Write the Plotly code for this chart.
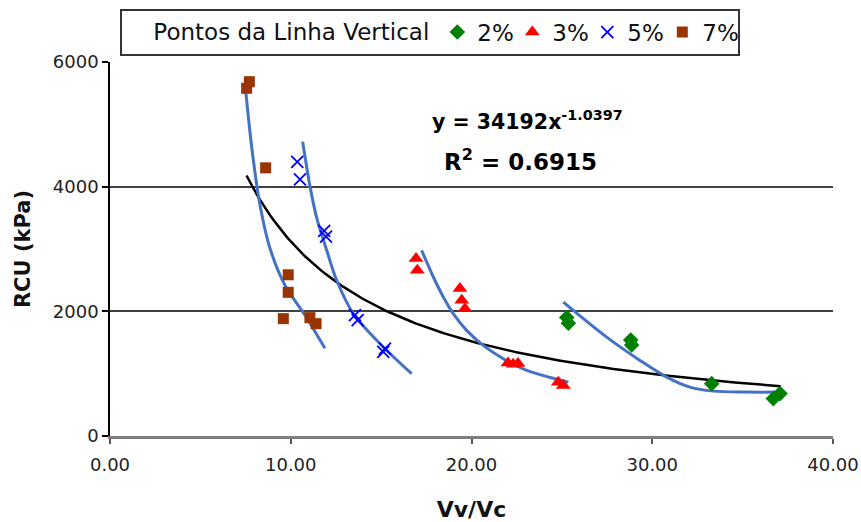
import numpy as np
import plotly.graph_objects as go

# Measured points per vertical-line spacing group
x_2 = [25.27, 25.36, 28.81, 28.86, 33.29, 36.70, 37.07]
y_2 = [1900, 1810, 1540, 1460, 840, 600, 680]

x_3 = [16.93, 17.00, 19.36, 19.46, 19.64, 22.02, 22.30, 22.57, 24.80, 25.08]
y_3 = [2846, 2659, 2365, 2177, 2043, 1170, 1150, 1165, 864, 811]

x_5 = [10.36, 10.51, 11.85, 11.95, 13.55, 13.70, 15.12, 15.21]
y_5 = [4398, 4116, 3290, 3200, 1940, 1860, 1350, 1401]

x_7 = [7.56, 7.71, 8.61, 9.59, 9.86, 9.86, 11.06, 11.40]
y_7 = [5578, 5684, 4302, 1883, 2586, 2305, 1899, 1802]

# Hand-fitted guide curves through each group
guide_7_x = [7.47, 7.86, 8.30, 8.85, 9.68, 10.79, 11.89]
guide_7_y = [5647, 4586, 3703, 3012, 2418, 1936, 1406]

guide_5_x = [10.66, 11.07, 11.47, 11.99, 12.54, 13.46, 14.94, 16.69]
guide_5_y = [4720, 3997, 3462, 2980, 2498, 1963, 1481, 999]

guide_3_x = [17.24, 17.89, 18.44, 18.99, 19.73, 20.65, 21.76, 23.06, 25.36]
guide_3_y = [2980, 2551, 2230, 1963, 1695, 1454, 1240, 1052, 864]

guide_2_x = [25.08, 27.48, 29.32, 30.80, 32.09, 33.38, 35.23, 37.16]
guide_2_y = [2149, 1587, 1213, 945, 784, 720, 704, 704]

# Power-law trendline y = a * x^b over all points
trend_a = 34192
trend_b = -1.0397
trend_r2 = 0.6915
trend_x_start = 7.55
trend_x_end = 37.1

x_ticks = [0, 10, 20, 30, 40]
y_ticks = [0, 2000, 4000, 6000]

FONT = "DejaVu Sans"
BLUE_GUIDE = "#4472C4"

fig = go.Figure()

trend_x = np.linspace(trend_x_start, trend_x_end, 200)
trend_y = trend_a * trend_x ** trend_b
fig.add_trace(go.Scatter(x=trend_x, y=trend_y, mode="lines",
                         line=dict(color="black", width=2.5),
                         showlegend=False, hoverinfo="skip"))

for gx, gy in [(guide_7_x, guide_7_y), (guide_5_x, guide_5_y),
               (guide_3_x, guide_3_y), (guide_2_x, guide_2_y)]:
    fig.add_trace(go.Scatter(x=gx, y=gy, mode="lines",
                             line=dict(color=BLUE_GUIDE, width=3, shape="spline",
                                       smoothing=0.9),
                             showlegend=False, hoverinfo="skip"))

fig.add_trace(go.Scatter(x=x_2, y=y_2, mode="markers", name="2%",
                         marker=dict(symbol="diamond", size=12, color="#008000")))
fig.add_trace(go.Scatter(x=x_3, y=y_3, mode="markers", name="3%",
                         marker=dict(symbol="triangle-up", size=13, color="#FF0000")))
fig.add_trace(go.Scatter(x=x_5, y=y_5, mode="markers", name="5%",
                         marker=dict(symbol="x-thin-open", size=12, color="#0000FF",
                                     line=dict(color="#0000FF", width=1.8))))
fig.add_trace(go.Scatter(x=x_7, y=y_7, mode="markers", name="7%",
                         marker=dict(symbol="square", size=11, color="#993300")))

fig.add_annotation(x=23.1, y=5068, xref="x", yref="y", showarrow=False,
                   text=f"<b>y = {trend_a}x<sup>{trend_b}</sup></b>",
                   font=dict(family=FONT, size=20.5, color="black"))
fig.add_annotation(x=22.7, y=4426, xref="x", yref="y", showarrow=False,
                   text=f"<b>R<sup>2</sup> = {trend_r2}</b>",
                   font=dict(family=FONT, size=23, color="black"))

fig.update_layout(
    width=861, height=522,
    margin=dict(l=110, r=28, t=62, b=86, autoexpand=False),
    paper_bgcolor="white", plot_bgcolor="white",
    font=dict(family=FONT, color="#111"),
    legend=dict(
        orientation="h", x=0.014, xanchor="left", y=1.080, yanchor="middle",
        title=dict(text="\u00a0\u00a0\u00a0\u00a0Pontos da Linha Vertical", side="left",
                   font=dict(family=FONT, size=23, color="#111")),
        font=dict(family=FONT, size=23, color="#111"),
        bgcolor="white", bordercolor="#333", borderwidth=2,
        itemwidth=30, entrywidth=30, entrywidthmode="pixels",
        traceorder="normal",
    ),
    xaxis=dict(
        range=[0, 40], tickvals=x_ticks, tickformat=".2f",
        showline=True, linecolor="#7f7f7f", linewidth=3,
        ticks="outside", ticklen=5, tickcolor="#555", tickwidth=1.5,
        ticklabelstandoff=5, automargin=False,
        showgrid=False, zeroline=False,
        tickfont=dict(family=FONT, size=18, color="#222"),
        title=dict(text="<b>Vv/Vc</b>", standoff=30,
                   font=dict(family=FONT, size=22, color="#111")),
    ),
    yaxis=dict(
        range=[0, 6000], tickvals=y_ticks, tickformat="d",
        showline=True, linecolor="black", linewidth=1.5,
        ticks="outside", ticklen=6, tickcolor="black", tickwidth=1.5,
        automargin=False,
        showgrid=True, gridcolor="#404040", gridwidth=2, zeroline=False,
        tickfont=dict(family=FONT, size=18, color="#222"),
        title=dict(text="<b>RCU (kPa)</b>", standoff=16,
                   font=dict(family=FONT, size=21, color="#111")),
    ),
)

fig.write_html("out.html")
